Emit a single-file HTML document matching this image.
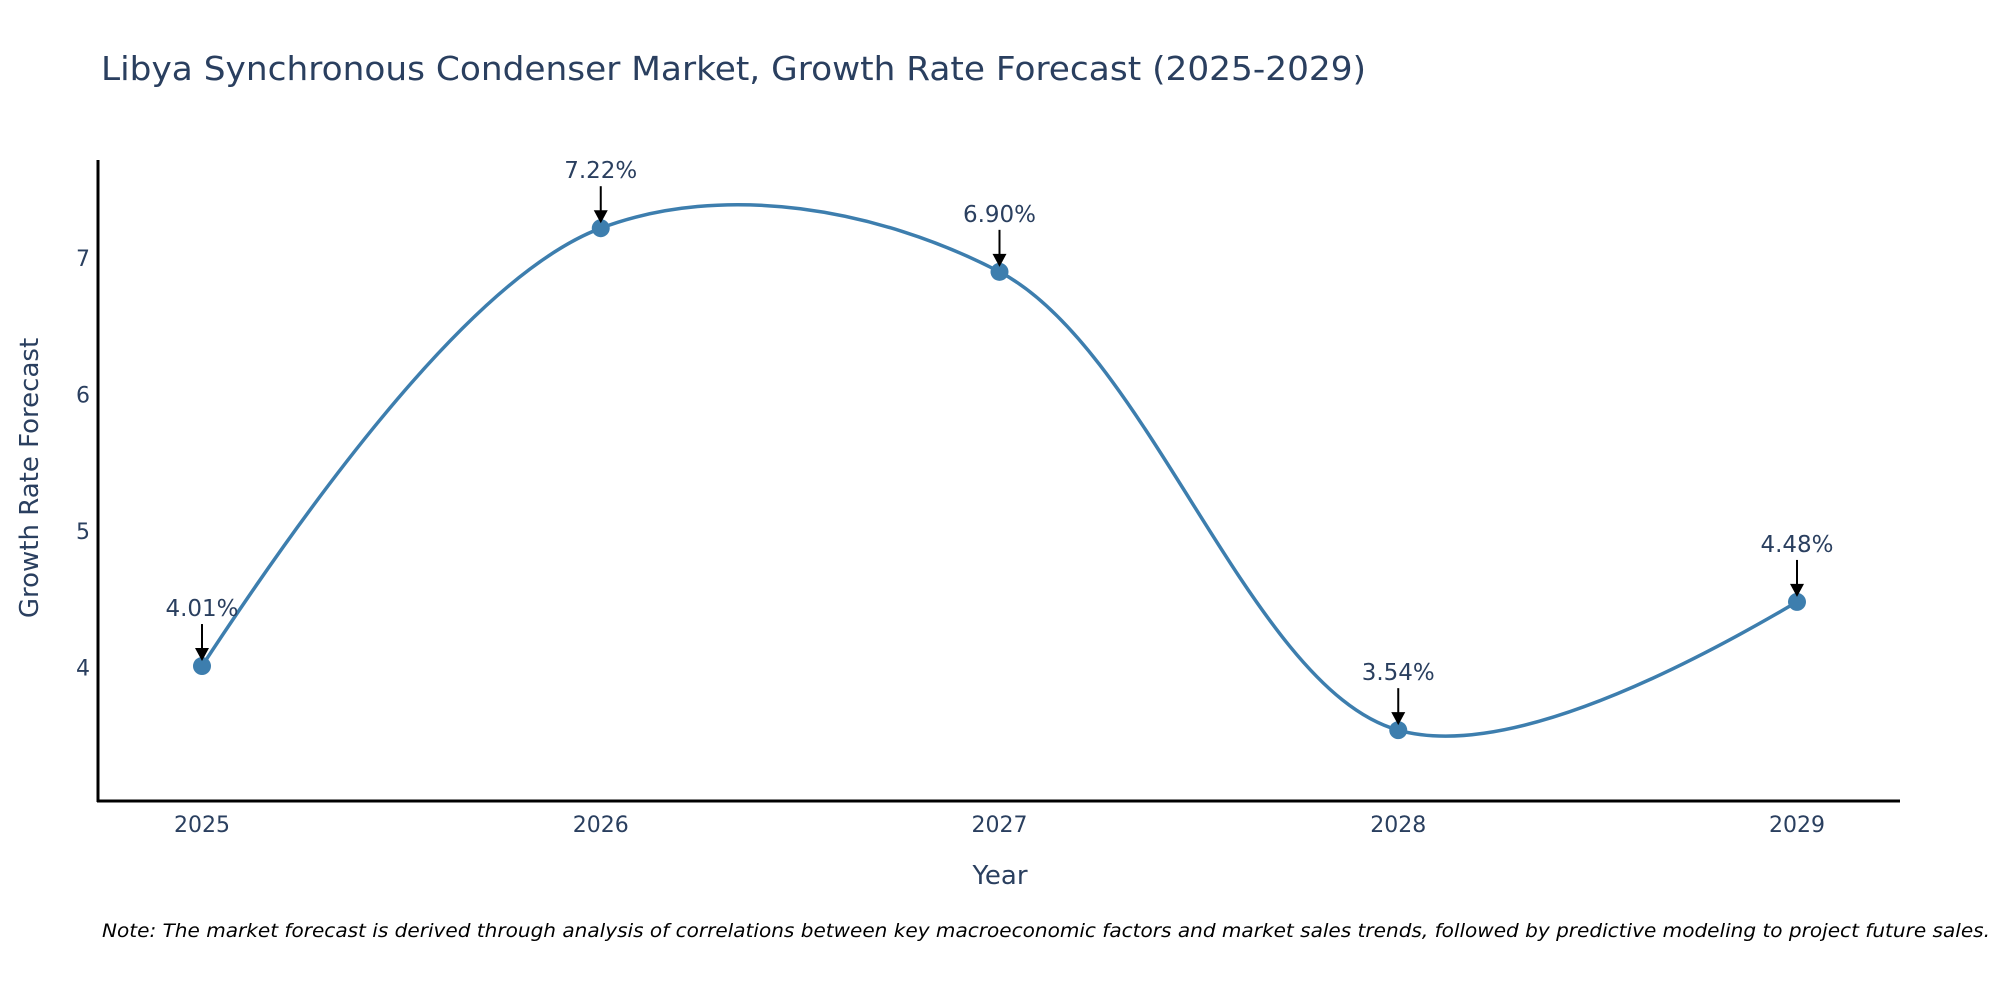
<!DOCTYPE html>
<html><head><meta charset="utf-8"><style>
html,body{margin:0;padding:0;background:#fff;}
svg{display:block;font-family:"DejaVu Sans","Liberation Sans",sans-serif;}
</style></head><body>
<svg id="chart" width="2000" height="1000" viewBox="0 0 2000 1000">
<defs><marker id="ah" viewBox="0 0 10 10" refX="5" refY="10" markerWidth="9" markerHeight="9" markerUnits="userSpaceOnUse" orient="auto"></marker></defs>
<text x="101" y="80" font-size="33" fill="#2a3f5f" textLength="1265" lengthAdjust="spacingAndGlyphs">Libya Synchronous Condenser Market, Growth Rate Forecast (2025-2029)</text>
<g id="plot"></g>
<line x1="98" y1="160" x2="98" y2="802" stroke="#000" stroke-width="3"/>
<line x1="97" y1="801" x2="1900" y2="801" stroke="#000" stroke-width="3"/>
<text x="1000" y="884" font-size="26" fill="#2a3f5f" text-anchor="middle">Year</text>
<text transform="translate(38,478) rotate(-90)" font-size="26" fill="#2a3f5f" text-anchor="middle">Growth Rate Forecast</text>
<text x="1990" y="937" font-size="19" font-style="italic" fill="#000" text-anchor="end" textLength="1888" lengthAdjust="spacingAndGlyphs">Note: The market forecast is derived through analysis of correlations between key macroeconomic factors and market sales trends, followed by predictive modeling to project future sales.</text>
</svg>
<script>
const years = ["2025","2026","2027","2028","2029"];
const values = [4.01, 7.22, 6.90, 3.54, 4.48];
const labels = ["4.01%","7.22%","6.90%","3.54%","4.48%"];
const yTicks = [4,5,6,7];

const NS="http://www.w3.org/2000/svg";
const g=document.getElementById('plot');
function X(i){return 202+i*(1797-202)/(years.length-1);}
function Y(v){return 667.4-(v-4)*136.4;}
function mk(t,a){const e=document.createElementNS(NS,t);for(const k in a)e.setAttribute(k,a[k]);g.appendChild(e);return e;}

yTicks.forEach(t=>{
  const e=mk('text',{x:90,y:Y(t)+8,'font-size':22,fill:'#2a3f5f','text-anchor':'end'});
  e.textContent=t;
  
  
});
years.forEach((yr,i)=>{
  const e=mk('text',{x:X(i),y:832,'font-size':22,fill:'#2a3f5f','text-anchor':'middle'});
  e.textContent=yr;
  
  
});

const pts=values.map((v,i)=>[X(i),Y(v)]);
function tang(p,c,n){
  const d1x=p[0]-c[0],d1y=p[1]-c[1],d2x=n[0]-c[0],d2y=n[1]-c[1];
  const d1a=Math.pow(d1x*d1x+d1y*d1y,0.25),d2a=Math.pow(d2x*d2x+d2y*d2y,0.25);
  const nx=(d2a*d2a*d1x-d1a*d1a*d2x),ny=(d2a*d2a*d1y-d1a*d1a*d2y);
  const den1=3*d2a*(d1a+d2a),den2=3*d1a*(d1a+d2a);
  return [[c[0]+nx/den1,c[1]+ny/den1],[c[0]-nx/den2,c[1]-ny/den2]];
}
const tg=[];for(let i=1;i<pts.length-1;i++)tg.push(tang(pts[i-1],pts[i],pts[i+1]));
let d='M'+pts[0]+'Q'+tg[0][0]+' '+pts[1];
for(let i=2;i<pts.length-1;i++)d+='C'+tg[i-2][1]+' '+tg[i-1][0]+' '+pts[i];
d+='Q'+tg[pts.length-3][1]+' '+pts[pts.length-1];
const line=mk('path',{d:d,fill:'none',stroke:'#3d7eae','stroke-width':3.5});



pts.forEach((p,i)=>{
  const c=mk('circle',{cx:p[0],cy:p[1],r:9,fill:'#3d7eae'});
  
  
  const a=mk('line',{x1:p[0],y1:p[1]-42,x2:p[0],y2:p[1]-16,stroke:'#000','stroke-width':2});
  
  
  const h=mk('polygon',{points:`${p[0]-7},${p[1]-18} ${p[0]+7},${p[1]-18} ${p[0]},${p[1]-5}`,fill:'#000'});
  
  
  const t=mk('text',{x:p[0],y:p[1]-50,'font-size':23,fill:'#2a3f5f','text-anchor':'middle'});
  t.textContent=labels[i];
  
  
});
</script>
</body></html>
